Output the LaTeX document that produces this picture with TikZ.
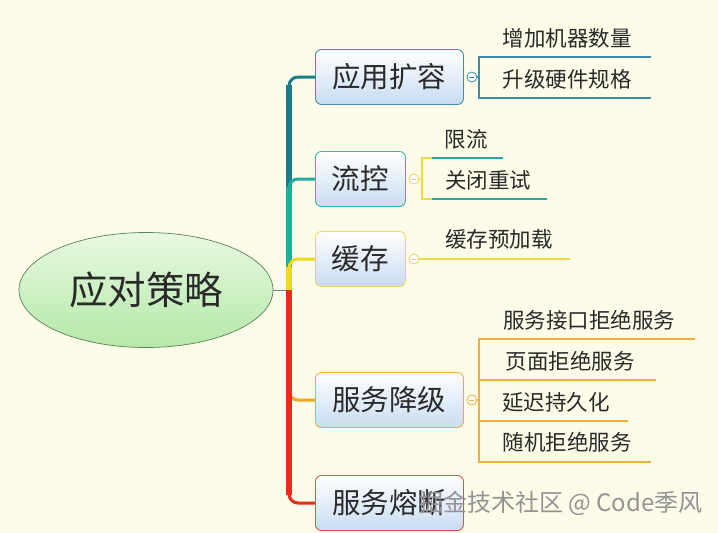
\documentclass[tikz,border=0pt]{standalone}
\usepackage{fontspec}
\setmainfont{Noto Sans CJK SC}
\usetikzlibrary{shapes.geometric,calc}
\definecolor{bg}{HTML}{FCFCE9}
\definecolor{cA}{HTML}{177E8C}
\definecolor{cB}{HTML}{1FAE9C}
\definecolor{cC}{HTML}{F0DA1E}
\definecolor{cD}{HTML}{F4A623}
\definecolor{cE}{HTML}{EC2A1A}
\definecolor{bA}{HTML}{3E8FAA}
\definecolor{bB}{HTML}{3BB3AA}
\definecolor{bC}{HTML}{F0D46A}
\definecolor{bD}{HTML}{F0AA3A}
\definecolor{bE}{HTML}{DE5050}
\definecolor{lA}{HTML}{3A8EA8}
\definecolor{lB}{HTML}{2AA8A8}
\definecolor{lC}{HTML}{F0D84A}
\definecolor{lD}{HTML}{F2AE40}
\definecolor{txt}{HTML}{2A2A2A}
\definecolor{boxbot}{HTML}{C9DCF2}
\definecolor{gtop}{HTML}{EAF9E2}
\definecolor{gmid}{HTML}{CDF1C4}
\definecolor{gbot}{HTML}{B6E8A8}
\begin{document}
\begin{tikzpicture}[x=1pt,y=-1pt,
  topic/.style={draw, rounded corners=6pt, line width=0.9pt, top color=white, bottom color=boxbot,
    minimum height=55pt, anchor=west, inner sep=0pt, font=\fontsize{28.5}{31}\selectfont, text=txt},
  tog/.style={circle, draw, fill=white, minimum size=10pt, inner sep=0pt, line width=0.8pt},
  leaf/.style={font=\fontsize{21.5}{24}\selectfont, text=txt, inner sep=0pt},
  branch/.style={line width=3pt, rounded corners=9pt},
  trunk/.style={line width=6pt},
  sub/.style={line width=1.1pt}
]
\fill[bg] (0,0) rectangle (718,533);
\useasboundingbox (0,0) rectangle (718,533);

% root
\node[ellipse, draw=black!45!green!30!gray, line width=0.7pt, top color=gtop, bottom color=gbot,
  middle color=gmid, minimum width=254pt, minimum height=115pt, font=\fontsize{38.5}{42}\selectfont, text=txt] (root) at (146,290) {应对策略};
\coordinate (hub) at (289,290);

% topic anchors
\coordinate (p1) at (315,77);
\coordinate (p2) at (315,179);
\coordinate (p3) at (315,259);
\coordinate (p4) at (315,400);
\coordinate (p5) at (315,503);

% branches
\draw[gray, line width=0.8pt] (root.east) -- (hub);
\draw[branch, cA] (hub) |- (p1);
\draw[trunk, cA] (hub) -- ($(hub|-p1)+(0,8)$);
\draw[branch, cB] (hub) |- (p2);
\draw[trunk, cB] (hub) -- ($(hub|-p2)+(0,8)$);
\draw[branch, cC] (hub) |- (p3);
\draw[trunk, cC] (hub) -- ($(hub|-p3)+(0,8)$);
\draw[branch, cD] (hub) |- (p4);
\draw[trunk, cD] (hub) -- ($(hub|-p4)+(0,-8)$);
\draw[branch, cE] (hub) |- (p5);
\draw[trunk, cE] (hub) -- ($(hub|-p5)+(0,-8)$);

% topics
\node[topic, draw=bA, minimum width=148pt] (b1) at (p1) {应用扩容};
\node[topic, draw=bB, minimum width=90pt] (b2) at (p2) {流控};
\node[topic, draw=bC, minimum width=90pt] (b3) at (p3) {缓存};
\node[topic, draw=bD, minimum width=148pt] (b4) at (p4) {服务降级};
\node[topic, draw=bE, minimum width=148pt] (b5) at (p5) {服务熔断};

% toggles
\node[tog, draw=lA] (t1) at ($(b1.east)+(8,0)$) {};
\node[tog, draw=lC] (t2) at ($(b2.east)+(8,0)$) {};
\node[tog, draw=lC] (t3) at ($(b3.east)+(8,0)$) {};
\node[tog, draw=lD] (t4) at ($(b4.east)+(8,0)$) {};
\foreach \t/\c in {t1/lA,t2/lC,t3/lC,t4/lD}{
  \draw[\c, line width=0.7pt] ($(\t.center)+(-2.5,0)$) -- ($(\t.center)+(2.5,0)$);
}

% leaves of 应用扩容
\node[leaf] (a1) at (567,38) {增加机器数量};
\node[leaf] (a2) at (567,79) {升级硬件规格};
\coordinate (ka) at (479,77);
\draw[sub, lA] (t1.east) -- (ka);
\draw[sub, lA] (651,57) -- (479,57) -- (479,98) -- (651,98);

% leaves of 流控
\node[leaf] (f1) at (466,139) {限流};
\node[leaf] (f2) at (488,180) {关闭重试};
\coordinate (kf) at (422,180);
\draw[sub, lC] (t2.east) -- (kf);
\draw[sub, lC] (432,158) -- (422,158) -- (422,199) -- (432,199);
\draw[sub, lB] (432,158) -- (503,158);
\draw[sub, lB] (432,199) -- (547,199);

% leaf of 缓存
\node[leaf] (h1) at (499,239) {缓存预加载};
\coordinate (kh) at (570,259);
\draw[sub, lC] (t3.east) -- (kh);

% leaves of 服务降级
\node[leaf] (d1) at (589,320) {服务接口拒绝服务};
\node[leaf] (d2) at (570,361) {页面拒绝服务};
\node[leaf] (d3) at (556,402) {延迟持久化};
\node[leaf] (d4) at (567,442) {随机拒绝服务};
\coordinate (kd) at (479,400);
\draw[sub, lD] (t4.east) -- (kd);
\draw[sub, lD] (695,339) -- (479,339) -- (479,462) -- (651,462);
\draw[sub, lD] (479,380) -- (656,380);
\draw[sub, lD] (479,421) -- (628,421);

% watermark
\node[font=\fontsize{24}{27}\selectfont, text=black!42, anchor=west, inner sep=0pt] (wm) at (419,503) {掘金技术社区 @ Code季风};
\end{tikzpicture}
\end{document}
